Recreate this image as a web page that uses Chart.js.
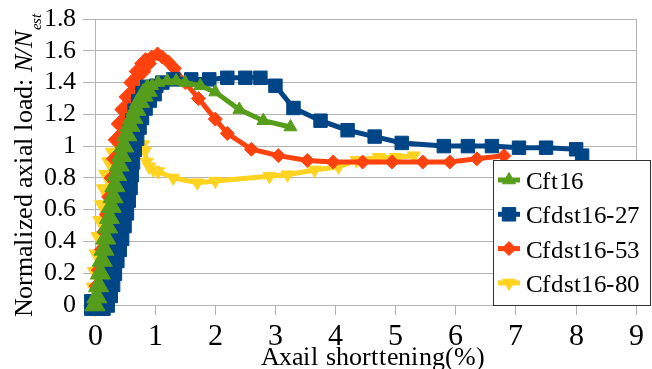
<!DOCTYPE html>
<html>
<head>
<meta charset="utf-8">
<script src="https://cdn.jsdelivr.net/npm/chart.js@4.4.0/dist/chart.umd.min.js"></script>
<style>
  @font-face { font-family: "ChartSerif"; font-style: normal; src: local("Liberation Serif"), local("LiberationSerif"), local("LiberationSerif-Regular"); }
  @font-face { font-family: "ChartSerif"; font-style: italic; src: local("Liberation Serif Italic"), local("LiberationSerif-Italic"); }
  html, body { margin: 0; padding: 0; background: #fff; }
  #wrap { width: 652px; height: 369px; }
</style>
</head>
<body>
<div id="wrap"><canvas id="axialChart" width="652" height="369"></canvas></div>
<script>
// series names, as in the legend
var seriesNames = ["Cft16", "Cfdst16-27", "Cfdst16-53", "Cfdst16-80"];

// Cft16
var cft16X = [0, 0.03, 0.06, 0.09, 0.12, 0.15, 0.18, 0.21, 0.24, 0.27, 0.30, 0.33, 0.36, 0.40, 0.44, 0.48, 0.53, 0.58, 0.63, 0.68, 0.74, 0.80, 0.87, 0.95, 1.05, 1.2, 1.35, 1.5, 1.75, 2.0, 2.4, 2.8, 3.25];
var cft16Y = [0, 0.05, 0.12, 0.20, 0.28, 0.35, 0.42, 0.49, 0.55, 0.62, 0.68, 0.75, 0.82, 0.88, 0.94, 1.00, 1.07, 1.13, 1.18, 1.23, 1.28, 1.32, 1.35, 1.38, 1.40, 1.41, 1.41, 1.40, 1.38, 1.34, 1.23, 1.16, 1.12];

// Cfdst16-27
var c27X = [0, 0.08, 0.15, 0.20, 0.24, 0.27, 0.31, 0.35, 0.39, 0.43, 0.47, 0.50, 0.53, 0.55, 0.57, 0.60, 0.64, 0.68, 0.72, 0.78, 0.85, 0.93, 1.02, 1.12, 1.3, 1.6, 1.9, 2.2, 2.5, 2.75, 3.0, 3.3, 3.75, 4.2, 4.65, 5.1, 5.8, 6.2, 6.6, 7.05, 7.5, 8.0, 8.1];
var c27Y = [0, 0, 0.02, 0.08, 0.15, 0.22, 0.30, 0.37, 0.44, 0.52, 0.60, 0.68, 0.76, 0.84, 0.92, 1.00, 1.07, 1.14, 1.20, 1.26, 1.31, 1.35, 1.38, 1.40, 1.42, 1.42, 1.42, 1.43, 1.43, 1.43, 1.38, 1.24, 1.16, 1.10, 1.06, 1.02, 1.00, 1.00, 1.00, 0.99, 0.99, 0.98, 0.94];

// Cfdst16-53
var c53X = [0, 0.08, 0.12, 0.17, 0.21, 0.25, 0.29, 0.33, 0.37, 0.40, 0.45, 0.51, 0.58, 0.66, 0.75, 0.84, 0.94, 1.04, 1.12, 1.22, 1.32, 1.5, 1.72, 2.0, 2.2, 2.6, 3.05, 3.53, 3.96, 4.45, 4.94, 5.45, 5.9, 6.35, 6.8];
var c53Y = [0, 0.12, 0.22, 0.35, 0.46, 0.57, 0.68, 0.80, 0.92, 1.04, 1.14, 1.23, 1.31, 1.40, 1.47, 1.52, 1.56, 1.58, 1.56, 1.53, 1.49, 1.40, 1.30, 1.17, 1.08, 0.98, 0.94, 0.91, 0.90, 0.90, 0.90, 0.90, 0.90, 0.92, 0.94];

// Cfdst16-80
var c80X = [0, 0.02, 0.04, 0.07, 0.10, 0.13, 0.16, 0.19, 0.23, 0.28, 0.34, 0.45, 0.6, 0.72, 0.8, 0.83, 0.86, 0.9, 0.97, 1.05, 1.3, 1.7, 2.0, 2.9, 3.2, 3.65, 4.05, 4.35, 4.72, 5.0, 5.3];
var c80Y = [0, 0.10, 0.20, 0.31, 0.42, 0.52, 0.62, 0.72, 0.81, 0.89, 0.95, 0.98, 0.99, 1.00, 1.01, 0.97, 0.90, 0.87, 0.85, 0.84, 0.80, 0.77, 0.78, 0.81, 0.82, 0.85, 0.87, 0.91, 0.93, 0.93, 0.94];

var xTicks = [0, 1, 2, 3, 4, 5, 6, 7, 8, 9];
var yTicks = [0, 0.2, 0.4, 0.6, 0.8, 1, 1.2, 1.4, 1.6, 1.8];

function toPoints(xs, ys) {
  return xs.map(function (x, i) { return { x: x, y: ys[i] }; });
}

var gridGray = "#b3b3b3";
var serif = "ChartSerif, 'Liberation Serif', serif";
// big serif text falls back to a sans face here, so text is set small and scaled up
var BASE = 20;

function serifText(ctx, text, x, y, size, align, baseline, italic) {
  var k = size / BASE;
  ctx.save();
  ctx.translate(x, y);
  ctx.scale(k, k);
  ctx.font = (italic ? "italic " : "") + BASE + "px " + serif;
  ctx.textAlign = align;
  ctx.textBaseline = baseline;
  ctx.fillText(text, 0, 0);
  var w = ctx.measureText(text).width * k;
  ctx.restore();
  return w;
}

var styles = [
  { color: "#579d1c", pointStyle: "triangle", rotation: 0, radius: 7.5, knee: 0.9 },
  { color: "#004586", pointStyle: "rect", rotation: 0, radius: 9.5, knee: 1.0 },
  { color: "#ff420e", pointStyle: "rectRot", rotation: 0, radius: 7, knee: 0.9 },
  { color: "#ffd320", pointStyle: "triangle", rotation: 180, radius: 7.5, knee: 0.5 }
];

var allPoints = [
  toPoints(cft16X, cft16Y),
  toPoints(c27X, c27Y),
  toPoints(c53X, c53Y),
  toPoints(c80X, c80Y)
];

var datasets = seriesNames.map(function (name, i) {
  var s = styles[i];
  return {
    label: name,
    data: allPoints[i],
    borderColor: s.color,
    backgroundColor: s.color,
    borderWidth: 5,
    pointStyle: s.pointStyle,
    rotation: s.rotation,
    pointBackgroundColor: s.color,
    pointBorderColor: s.color,
    pointBorderWidth: 1,
    // the rising part is a thick band of closely packed markers
    pointRadius: function (c) {
      var p = c.raw;
      return p && p.x < s.knee ? s.radius * 1.55 : s.radius;
    },
    tension: 0,
    clip: false
  };
});

// axis titles (the y title has italics and a subscript)
var axisTitles = {
  id: "axisTitles",
  afterDraw: function (chart) {
    var ctx = chart.ctx;
    ctx.save();
    ctx.fillStyle = "#000";
    serifText(ctx, "Axail shorttening(%)", 373, 365, 26, "center", "alphabetic");

    ctx.translate(32, 317);
    ctx.rotate(-Math.PI / 2);
    var w1 = serifText(ctx, "Normalized axial load: ", 0, 0, 25.5, "left", "alphabetic");
    var w2 = serifText(ctx, "N/N", w1, 0, 25.5, "left", "alphabetic", true);
    serifText(ctx, "est", w1 + w2 + 1, 9, 15, "left", "alphabetic", true);
    ctx.restore();
  }
};

// tick labels, placed with the chart's own scales
var tickLabels = {
  id: "tickLabels",
  afterDraw: function (chart) {
    var ctx = chart.ctx;
    var xs = chart.scales.x, ys = chart.scales.y;
    ctx.save();
    ctx.fillStyle = "#000";
    yTicks.forEach(function (v) {
      serifText(ctx, String(v), 76, ys.getPixelForValue(v), 26, "right", "middle");
    });
    xTicks.forEach(function (v) {
      serifText(ctx, String(v), xs.getPixelForValue(v), 345, 30, "center", "alphabetic");
    });
    ctx.restore();
  }
};

// legend box inside the plot, bottom right
var legendBox = {
  id: "legendBox",
  afterDraw: function (chart) {
    var ctx = chart.ctx;
    var left = 493, top = 160, right = 651, bottom = 305;
    ctx.save();
    ctx.fillStyle = "#fff";
    ctx.fillRect(left, top, right - left, bottom - top);
    ctx.strokeStyle = "#333";
    ctx.lineWidth = 1;
    ctx.strokeRect(left + 0.5, top + 0.5, right - left - 1, bottom - top);
    seriesNames.forEach(function (name, i) {
      var s = styles[i];
      var y = 180 + i * 34.3;
      ctx.strokeStyle = s.color;
      ctx.lineWidth = 5;
      ctx.beginPath();
      ctx.moveTo(498, y);
      ctx.lineTo(520, y);
      ctx.stroke();
      ctx.fillStyle = s.color;
      ctx.lineWidth = 1;
      Chart.helpers.drawPoint(ctx, {
        pointStyle: s.pointStyle, rotation: s.rotation, radius: s.radius, borderWidth: 1
      }, 509, y);
      ctx.fillStyle = "#000";
      serifText(ctx, name, 526, y + 9, 25, "left", "alphabetic");
    });
    ctx.restore();
  }
};

function buildChart() {
  var ctx = document.getElementById("axialChart").getContext("2d");
  return new Chart(ctx, {
    type: "line",
    data: { datasets: datasets },
    options: {
      responsive: false,
      animation: false,
      layout: { padding: { top: 19, right: 1, left: 0, bottom: 0 } },
      plugins: {
        legend: { display: false },
        tooltip: { enabled: false }
      },
      scales: {
        x: {
          type: "linear",
          min: xTicks[0],
          max: xTicks[xTicks.length - 1],
          afterBuildTicks: function (scale) {
            scale.ticks = xTicks.map(function (v) { return { value: v }; });
          },
          ticks: { color: "rgba(0,0,0,0)", font: { size: 12 }, maxRotation: 0, autoSkip: false },
          grid: {
            color: function (c) { return c.tick && c.tick.value === 9 ? gridGray : "rgba(0,0,0,0)"; },
            tickColor: gridGray,
            tickLength: 10,
            lineWidth: 1
          },
          border: { color: gridGray, width: 1 },
          afterFit: function (scale) {
            scale.height = 64;
            scale.paddingLeft = 0;
            scale.paddingRight = 0;
          }
        },
        y: {
          type: "linear",
          min: yTicks[0],
          max: yTicks[yTicks.length - 1],
          afterBuildTicks: function (scale) {
            scale.ticks = yTicks.map(function (v) { return { value: v }; });
          },
          ticks: { color: "rgba(0,0,0,0)", font: { size: 12 }, autoSkip: false },
          grid: { color: gridGray, tickColor: gridGray, tickLength: 12, lineWidth: 1 },
          border: { color: gridGray, width: 1 },
          afterFit: function (scale) {
            scale.width = 95;
            scale.paddingTop = 0;
            scale.paddingBottom = 0;
          }
        }
      }
    },
    plugins: [axisTitles, tickLabels, legendBox]
  });
}

var axialChart;
Promise.all([
  document.fonts.load("20px ChartSerif", "0123456789.Cfdst-"),
  document.fonts.load("italic 20px ChartSerif", "N/Nest")
]).then(function () {
  axialChart = buildChart();
}, function () {
  axialChart = buildChart();
});
</script>
</body>
</html>
